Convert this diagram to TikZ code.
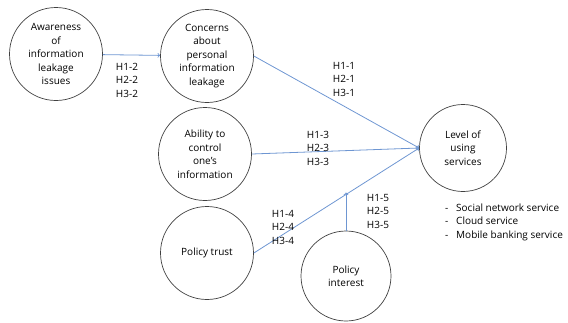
\documentclass[tikz,border=0pt]{standalone}
\usepackage{fontspec}
\setmainfont{Open Sans}
\usepackage{tikz}
\definecolor{linkblue}{RGB}{110,150,210}

\begin{document}
\begin{tikzpicture}[x=1pt,y=-1pt,
    every node/.style={font=\fontsize{10}{13.5}\selectfont, align=center, inner sep=0pt},
    factor/.style={shape=circle, draw=black!75, line width=0.7pt, minimum size=93pt},
    link/.style={->, draw=linkblue, line width=0.8pt}]
    \useasboundingbox (0,0) rectangle (568,322);
    \node[factor] at (56,54) (AW) {Awareness\\of\\information\\leakage\\issues};
    \node[factor] at (207,56) (CO) {Concerns\\about\\personal\\information\\leakage};
    \node[factor] at (205,154) (AB) {Ability to\\control\\one's\\information};
    \node[factor] at (207,253) (PT) {Policy trust};
    \node[factor, minimum size=90pt] at (346,276) (PI) {Policy\\interest};
    \node[factor, minimum size=87pt] at (463,148) (LV) {Level of\\using\\services};
    \draw [link] (AW) -- (CO);
    \draw [link] (CO.east) -- (LV.west);
    \draw [link] (AB.east) -- (LV.west);
    \draw [link] (PT.east) -- coordinate[pos=0.576] (hit) (LV.west);
    \draw [link] (PI.north) -- (PI.north |- hit);
    \node at (127,80) {H1-2\\H2-2\\H3-2};
    \node at (344,79) {H1-1\\H2-1\\H3-1};
    \node at (318,148) {H1-3\\H2-3\\H3-3};
    \node at (283,227) {H1-4\\H2-4\\H3-4};
    \node at (378,211) {H1-5\\H2-5\\H3-5};
    \node[anchor=west, align=left] at (445,222) {-\ \ \ Social network service\\-\ \ \ Cloud service\\-\ \ \ Mobile banking service};
\end{tikzpicture}
\end{document}
